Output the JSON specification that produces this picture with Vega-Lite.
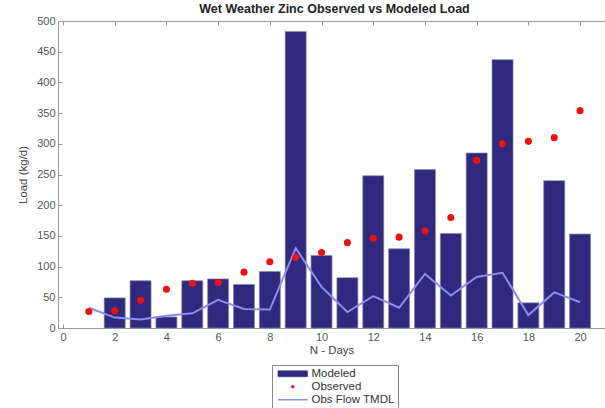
{
  "$schema": "https://vega.github.io/schema/vega-lite/v6.json",
  "width": 547,
  "height": 307,
  "autosize": "none",
  "padding": {"left": 58, "top": 21, "right": 0, "bottom": 80},
  "config": {
    "view": {"stroke": null},
    "font": "Liberation Sans",
    "axis": {"labelOverlap": false, "tickSize": -4, "labelPadding": 7, "grid": false, "domainColor": "#999", "tickColor": "#999", "labelColor": "#555", "labelFontSize": 11, "titleFontWeight": "normal", "titleFontSize": 11.5, "titleColor": "#444"},
    "legend": {"orient": "none", "legendX": 214, "legendY": 344, "title": null, "padding": 3, "strokeColor": "#888", "fillColor": "white", "labelFontSize": 11.5, "labelColor": "#333", "rowPadding": 0, "symbolSize": 64, "symbolOffset": 12, "labelOffset": 13, "labelLimit": 200}
  },
  "title": {"text": "Wet Weather Zinc Observed vs Modeled Load", "fontSize": 12.5, "fontWeight": "bold", "color": "#222", "offset": 0, "anchor": "middle", "dx": 3},
  "data": {"values": [
    {"day": 1, "modeled": null, "observed": 27, "tmdl": 33},
    {"day": 2, "modeled": 49, "observed": 28, "tmdl": 17},
    {"day": 3, "modeled": 77, "observed": 45, "tmdl": 14},
    {"day": 4, "modeled": 18, "observed": 63, "tmdl": 20},
    {"day": 5, "modeled": 77, "observed": 73, "tmdl": 24},
    {"day": 6, "modeled": 80, "observed": 74, "tmdl": 46},
    {"day": 7, "modeled": 71, "observed": 91, "tmdl": 31},
    {"day": 8, "modeled": 92, "observed": 108, "tmdl": 30},
    {"day": 9, "modeled": 483, "observed": 115, "tmdl": 130},
    {"day": 10, "modeled": 118, "observed": 123, "tmdl": 67},
    {"day": 11, "modeled": 82, "observed": 139, "tmdl": 26},
    {"day": 12, "modeled": 248, "observed": 146, "tmdl": 52},
    {"day": 13, "modeled": 129, "observed": 148, "tmdl": 33},
    {"day": 14, "modeled": 258, "observed": 158, "tmdl": 88},
    {"day": 15, "modeled": 154, "observed": 180, "tmdl": 53},
    {"day": 16, "modeled": 285, "observed": 273, "tmdl": 83},
    {"day": 17, "modeled": 437, "observed": 300, "tmdl": 90},
    {"day": 18, "modeled": 41, "observed": 304, "tmdl": 21},
    {"day": 19, "modeled": 240, "observed": 310, "tmdl": 58},
    {"day": 20, "modeled": 153, "observed": 354, "tmdl": 42}
  ]},
  "resolve": {"axis": {"x": "independent"}},
  "layer": [
    {
      "mark": {"type": "bar", "size": 21, "stroke": "#8a8a9a", "strokeWidth": 0.7},
      "encoding": {
        "x": {"field": "day", "type": "quantitative", "scale": {"domain": [0, 20.77], "nice": false, "zero": false},
          "axis": {"orient": "bottom", "values": [0,2,4,6,8,10,12,14,16,18,20], "title": "N - Days", "titlePadding": 2}},
        "y": {"field": "modeled", "type": "quantitative", "scale": {"domain": [0, 500], "nice": false},
          "axis": {"values": [0,50,100,150,200,250,300,350,400,450,500], "title": "Load (kg/d)", "titlePadding": 8}},
        "color": {"datum": "Modeled", "type": "nominal",
          "scale": {"domain": ["Modeled", "Observed", "Obs Flow TMDL"], "range": ["#2f2a80", "#ee1111", "#8c8cf0"]},
          "legend": {
            "encode": {"symbols": {"update": {
              "shape": {"signal": "datum.value === 'Modeled' ? 'M-3.7,-0.75H3.7V0.75H-3.7Z' : datum.value === 'Observed' ? 'circle' : 'M-3.7,0H3.7'"},
              "size": {"signal": "datum.value === 'Observed' ? 8 : 64"},
              "fill": {"signal": "datum.value === 'Obs Flow TMDL' ? 'transparent' : scale('color', datum.value)"},
              "stroke": {"signal": "datum.value === 'Modeled' ? '#444' : scale('color', datum.value)"},
              "strokeWidth": {"signal": "datum.value === 'Obs Flow TMDL' ? 1.5 : 0.5"},
              "opacity": {"value": 1}
            }}}}}
      }
    },
    {
      "mark": {"type": "line", "strokeWidth": 2},
      "encoding": {
        "x": {"field": "day", "type": "quantitative", "axis": {"orient": "top", "values": [0,2,4,6,8,10,12,14,16,18,20], "labels": false, "title": null}},
        "y": {"field": "tmdl", "type": "quantitative", "axis": {"values": [0,50,100,150,200,250,300,350,400,450,500], "title": "Load (kg/d)", "titlePadding": 8}},
        "color": {"datum": "Obs Flow TMDL", "type": "nominal",
          "legend": {
            "encode": {"symbols": {"update": {
              "shape": {"signal": "datum.value === 'Modeled' ? 'M-3.7,-0.75H3.7V0.75H-3.7Z' : datum.value === 'Observed' ? 'circle' : 'M-3.7,0H3.7'"},
              "size": {"signal": "datum.value === 'Observed' ? 8 : 64"},
              "fill": {"signal": "datum.value === 'Obs Flow TMDL' ? 'transparent' : scale('color', datum.value)"},
              "stroke": {"signal": "datum.value === 'Modeled' ? '#444' : scale('color', datum.value)"},
              "strokeWidth": {"signal": "datum.value === 'Obs Flow TMDL' ? 1.5 : 0.5"},
              "opacity": {"value": 1}
            }}}}}
      }
    },
    {
      "mark": {"type": "point", "filled": true, "size": 50, "opacity": 1},
      "encoding": {
        "x": {"field": "day", "type": "quantitative", "axis": null},
        "y": {"field": "observed", "type": "quantitative", "axis": {"values": [0,50,100,150,200,250,300,350,400,450,500], "title": "Load (kg/d)", "titlePadding": 8}},
        "color": {"datum": "Observed", "type": "nominal",
          "legend": {
            "encode": {"symbols": {"update": {
              "shape": {"signal": "datum.value === 'Modeled' ? 'M-3.7,-0.75H3.7V0.75H-3.7Z' : datum.value === 'Observed' ? 'circle' : 'M-3.7,0H3.7'"},
              "size": {"signal": "datum.value === 'Observed' ? 8 : 64"},
              "fill": {"signal": "datum.value === 'Obs Flow TMDL' ? 'transparent' : scale('color', datum.value)"},
              "stroke": {"signal": "datum.value === 'Modeled' ? '#444' : scale('color', datum.value)"},
              "strokeWidth": {"signal": "datum.value === 'Obs Flow TMDL' ? 1.5 : 0.5"},
              "opacity": {"value": 1}
            }}}}}
      }
    }
  ]
}
